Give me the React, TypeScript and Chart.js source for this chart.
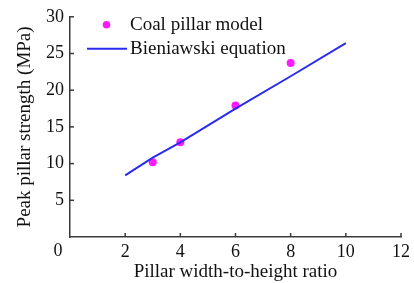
import React, { useEffect, useRef } from "react";
import { Chart, registerables } from "chart.js";

Chart.register(...registerables);

const modelRatios = [3, 4, 6, 8];
const modelStrength = [10.2, 12.9, 17.9, 23.7];
const eqRatios = [2, 3, 4, 6, 8, 10];
const eqStrength = [8.4, 10.8, 12.9, 17.5, 21.9, 26.4];
const xTicks = [0, 2, 4, 6, 8, 10, 12];
const yTicks = [0, 5, 10, 15, 20, 25, 30];
const seriesNames = ["Coal pillar model", "Bieniawski equation"];
const xTitle = "Pillar width-to-height ratio";
const yTitle = "Peak pillar strength (MPa)";

const FONT = "'Liberation Serif', 'Times New Roman', serif";
const PINK = "#ff1aff";
const BLUE = "#2b2bf0";
const AXIS = "#3a3a3a";
const TICK_SIZE = 18;
const TEXT_SIZE = 19;

const customPlugin = {
  id: "custom",
  afterDraw(chart: any) {
    const ctx = chart.ctx;
    const xs = chart.scales.x;
    const ys = chart.scales.y;
    const area = chart.chartArea;
    ctx.save();
    ctx.strokeStyle = AXIS;
    ctx.lineWidth = 1.5;
    yTicks.forEach((v) => {
      if (v === 0) return;
      const y = ys.getPixelForValue(v);
      ctx.beginPath();
      ctx.moveTo(area.left, y);
      ctx.lineTo(area.left + 4, y);
      ctx.stroke();
    });
    xTicks.forEach((v) => {
      if (v === 0) return;
      const x = xs.getPixelForValue(v);
      ctx.beginPath();
      ctx.moveTo(x, area.bottom);
      ctx.lineTo(x, area.bottom - 4);
      ctx.stroke();
    });
    ctx.fillStyle = "#111";
    ctx.font = `${TICK_SIZE}px ${FONT}`;
    ctx.textAlign = "center";
    ctx.textBaseline = "middle";
    ctx.fillText("0", area.left - 12, area.bottom + 14);
    const lx = area.left + 17;
    const ly1 = area.top + 8;
    const ly2 = area.top + 32;
    ctx.fillStyle = PINK;
    ctx.beginPath();
    ctx.arc(lx + 19.5, ly1, 3.8, 0, Math.PI * 2);
    ctx.fill();
    ctx.strokeStyle = BLUE;
    ctx.lineWidth = 2;
    ctx.beginPath();
    ctx.moveTo(lx, ly2);
    ctx.lineTo(lx + 40, ly2);
    ctx.stroke();
    ctx.fillStyle = "#111";
    ctx.font = `${TEXT_SIZE}px ${FONT}`;
    ctx.textAlign = "left";
    ctx.fillText(seriesNames[0], lx + 43, ly1);
    ctx.fillText(seriesNames[1], lx + 43, ly2);
    ctx.restore();
  },
};

export default function App() {
  const ref = useRef<HTMLCanvasElement>(null);
  useEffect(() => {
    if (!ref.current) return;
    const chart = new Chart(ref.current, {
      type: "scatter",
      data: {
        datasets: [
          {
            label: seriesNames[1],
            data: eqRatios.map((x, i) => ({ x, y: eqStrength[i] })),
            showLine: true,
            borderColor: BLUE,
            borderWidth: 2,
            pointRadius: 0,
            backgroundColor: BLUE,
          },
          {
            label: seriesNames[0],
            data: modelRatios.map((x, i) => ({ x, y: modelStrength[i] })),
            showLine: false,
            pointRadius: 4,
            pointBackgroundColor: PINK,
            pointBorderColor: PINK,
            pointBorderWidth: 0,
          },
        ],
      },
      options: {
        animation: false,
        responsive: false,
        layout: { padding: { top: 15, right: 12, left: 0, bottom: 0 } },
        plugins: { legend: { display: false }, tooltip: { enabled: false } },
        scales: {
          x: {
            type: "linear",
            min: 0,
            max: 12,
            afterFit: (s: any) => {
              s.height = 46;
            },
            afterBuildTicks: (s: any) => {
              s.ticks = xTicks.map((v) => ({ value: v }));
            },
            grid: { display: false, drawTicks: false },
            border: { display: true, color: AXIS, width: 1.5 },
            ticks: {
              padding: 4,
              color: "#111",
              font: { family: FONT, size: TICK_SIZE },
              callback: (v: any) => (v === 0 ? "" : String(v)),
              maxRotation: 0,
            },
            title: {
              display: true,
              text: xTitle,
              color: "#111",
              font: { family: FONT, size: TEXT_SIZE },
              padding: { top: 0, bottom: 0 },
            },
          },
          y: {
            type: "linear",
            min: 0,
            max: 30,
            afterFit: (s: any) => {
              s.width = 70;
            },
            afterBuildTicks: (s: any) => {
              s.ticks = yTicks.map((v) => ({ value: v }));
            },
            grid: { display: false, drawTicks: false },
            border: { display: true, color: AXIS, width: 1.5 },
            ticks: {
              padding: 6,
              color: "#111",
              font: { family: FONT, size: TICK_SIZE },
              callback: (v: any) => (v === 0 ? "" : String(v)),
            },
            title: {
              display: true,
              text: yTitle,
              color: "#111",
              font: { family: FONT, size: TEXT_SIZE },
              padding: { top: 13.5, bottom: 0 },
            },
          },
        },
      },
      plugins: [customPlugin],
    } as any);
    return () => chart.destroy();
  }, []);
  return (
    <div style={{ position: "fixed", left: 0, top: 0, width: 414, height: 283, background: "#fff" }}>
      <canvas ref={ref} width={414} height={283} />
    </div>
  );
}
